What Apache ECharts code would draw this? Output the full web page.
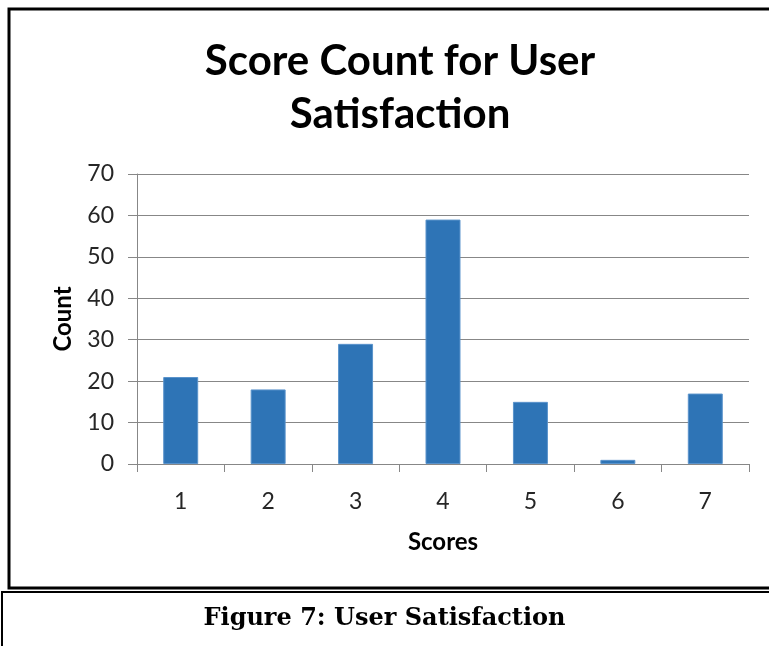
<!DOCTYPE html>
<html>
<head>
<meta charset="utf-8">
<script src="https://cdn.jsdelivr.net/npm/echarts@6/dist/echarts.min.js"></script>
<style>
  html, body { margin: 0; padding: 0; background: #fff; }
  #chart { width: 769px; height: 646px; }
</style>
</head>
<body>
<div id="chart"></div>
<script>
// Score categories and how many responses fell into each
const scores = ['1', '2', '3', '4', '5', '6', '7'];
const counts = [21, 18, 29, 59, 15, 1, 17];
const yTicks = [0, 10, 20, 30, 40, 50, 60, 70];

const chart = echarts.init(document.getElementById('chart'));
const gridColor = '#878787';
const sans = 'Lato, "Open Sans", "Liberation Sans", sans-serif';

chart.setOption({
  animation: false,
  backgroundColor: '#ffffff',
  title: {
    text: 'Score Count for User\nSatisfaction',
    left: 395,
    top: 30,
    textAlign: 'center',
    textStyle: {
      fontFamily: sans,
      fontWeight: 'bold',
      fontSize: 42,
      lineHeight: 53,
      color: '#000'
    }
  },
  grid: { left: 137, right: 20, top: 174, bottom: 182 },
  xAxis: {
    type: 'category',
    data: scores,
    name: 'Scores',
    nameLocation: 'middle',
    nameGap: 66,
    nameTextStyle: { fontFamily: sans, fontWeight: 'bold', fontSize: 24, color: '#000' },
    axisLine: { lineStyle: { color: gridColor, width: 1 } },
    axisTick: { show: true, length: 8, alignWithLabel: false, lineStyle: { color: gridColor } },
    axisLabel: { margin: 26, fontFamily: sans, fontSize: 23, color: '#262626' }
  },
  yAxis: {
    type: 'value',
    min: yTicks[0],
    max: yTicks[yTicks.length - 1],
    interval: 10,
    name: 'Count',
    nameLocation: 'middle',
    nameGap: 62,
    nameRotate: 90,
    nameTextStyle: { fontFamily: sans, fontWeight: 'bold', fontSize: 24, color: '#000' },
    axisLine: { show: true, lineStyle: { color: gridColor, width: 1 } },
    axisTick: { show: true, length: 9, lineStyle: { color: gridColor } },
    axisLabel: { margin: 23, fontFamily: sans, fontSize: 23, color: '#262626' },
    splitLine: { show: true, lineStyle: { color: gridColor, width: 1 } }
  },
  series: [{
    type: 'bar',
    data: counts,
    barWidth: '40%',
    itemStyle: { color: '#2E74B6', borderColor: '#5A93CB', borderWidth: 1 }
  }],
  graphic: [
    // chart frame
    { type: 'rect', shape: { x: 9, y: 9, width: 780, height: 579 },
      style: { fill: 'none', stroke: '#000', lineWidth: 3 }, z: 10 },
    // caption box
    { type: 'rect', shape: { x: 2, y: 592, width: 790, height: 70 },
      style: { fill: 'none', stroke: '#000', lineWidth: 2 }, z: 10 },
    { type: 'text', left: 'center', top: 607,
      style: { text: 'Figure 7: User Satisfaction', fill: '#000',
               font: 'bold 24px "DejaVu Serif", "Liberation Serif", serif' }, z: 10 }
  ]
});
</script>
</body>
</html>
